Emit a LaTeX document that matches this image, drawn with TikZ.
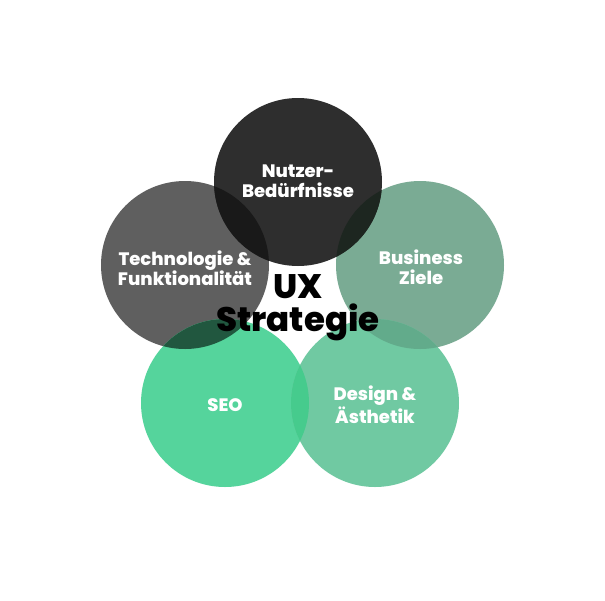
\documentclass[tikz,border=0pt]{standalone}
\usepackage{fontspec}
\setmainfont{Poppins}[BoldFont={Poppins ExtraBold}]
\definecolor{cTop}{HTML}{2E2E2E}
\definecolor{cLeft}{HTML}{5F5F5F}
\definecolor{cRight}{HTML}{7AAB94}
\definecolor{cSeo}{HTML}{55D49C}
\definecolor{cDes}{HTML}{70C9A2}
\definecolor{oTL}{HTML}{191919}
\definecolor{oTR}{HTML}{1D2620}
\definecolor{oLS}{HTML}{21573F}
\definecolor{oRD}{HTML}{62AB8B}
\definecolor{oSD}{HTML}{46CB8D}
\tikzset{
  lbl/.style={text=white, align=center, font=\bfseries\fontsize{18}{20}\selectfont, inner sep=0pt},
  titlelbl/.style={text=black, align=center, font=\bfseries\fontsize{34}{33}\selectfont, inner sep=0pt},
}
\begin{document}
\begin{tikzpicture}[x=1pt,y=-1pt]
\useasboundingbox (0,0) rectangle (605,600);
\fill[white] (0,0) rectangle (605,600);
\coordinate (top) at (298,182);
\coordinate (left) at (185,265);
\coordinate (right) at (420,265);
\coordinate (seo) at (225,403);
\coordinate (des) at (375,403);
\def\R{84}
\fill[cLeft] (left) circle[radius=\R];
\fill[cRight] (right) circle[radius=\R];
\fill[cSeo] (seo) circle[radius=\R];
\fill[cDes] (des) circle[radius=\R];
\fill[cTop] (top) circle[radius=\R];
\begin{scope}\clip (top) circle[radius=\R]; \fill[oTL] (left) circle[radius=\R]; \fill[oTR] (right) circle[radius=\R];\end{scope}
\begin{scope}\clip (seo) circle[radius=\R]; \fill[oLS] (left) circle[radius=\R]; \fill[oSD] (des) circle[radius=\R];\end{scope}
\begin{scope}\clip (des) circle[radius=\R]; \fill[oRD] (right) circle[radius=\R];\end{scope}
\node[lbl] (nutzer) at (298,181) {Nutzer-\\Bedürfnisse};
\node[lbl] (tech) at (185,268) {Technologie \&\\Funktionalität};
\node[lbl] (biz) at (421,267) {Business\\Ziele};
\node[lbl] (seolbl) at (225,405) {SEO};
\node[lbl] (design) at (375,405) {Design \&\\Ästhetik};
\node[titlelbl] (ux) at (298,308) {UX\\Strategie};
\end{tikzpicture}
\end{document}
